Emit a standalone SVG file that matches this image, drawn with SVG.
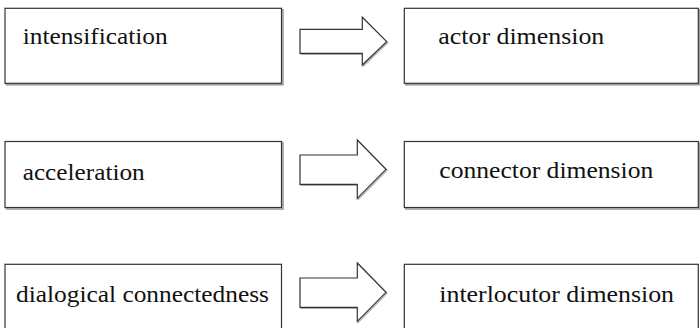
<svg xmlns="http://www.w3.org/2000/svg" width="700" height="328" viewBox="0 0 700 328">
<style>
.box{fill:#fff;stroke:#333;stroke-width:1.2}
.sh{fill:none;stroke:#999;stroke-width:1.5}
.arr{fill:#fff;stroke:#333;stroke-width:1.2;stroke-linejoin:miter}
.ash{fill:none;stroke:#aaa;stroke-width:1.2}
text{font-family:'Liberation Serif','Times New Roman',serif;font-size:24px;fill:#111}
</style>
<rect width="700" height="328" fill="#fff"/>
<g id="intensification">
<rect class="sh" x="6.5" y="9.8" width="276.5" height="75"/>
<rect class="box" x="5" y="8.3" width="276.5" height="75"/>
<text x="22.7" y="44.3" textLength="145" lengthAdjust="spacingAndGlyphs">intensification</text>
</g>
<g id="actor">
<rect class="sh" x="405.8" y="9.8" width="294" height="75"/>
<rect class="box" x="404.3" y="8.3" width="294" height="75"/>
<text x="438.3" y="44" textLength="166" lengthAdjust="spacingAndGlyphs">actor dimension</text>
</g>
<g id="acceleration">
<rect class="sh" x="6.5" y="143" width="276.5" height="66"/>
<rect class="box" x="5" y="141.5" width="276.5" height="66"/>
<text x="22.7" y="180" textLength="122" lengthAdjust="spacingAndGlyphs">acceleration</text>
</g>
<g id="connector">
<rect class="sh" x="405.8" y="143" width="294" height="66"/>
<rect class="box" x="404.3" y="141.5" width="294" height="66"/>
<text x="439.3" y="178.3" textLength="214" lengthAdjust="spacingAndGlyphs">connector dimension</text>
</g>
<g id="dialogical">
<rect class="box" x="5" y="264.3" width="276.5" height="70"/>
<text x="16" y="301.7" textLength="253" lengthAdjust="spacingAndGlyphs">dialogical connectedness</text>
</g>
<g id="interlocutor">
<rect class="box" x="404.3" y="264.3" width="294" height="70"/>
<text x="439.3" y="301.7" textLength="234.7" lengthAdjust="spacingAndGlyphs">interlocutor dimension</text>
</g>
<g id="connectors">
<polygon class="ash" points="301,30.3 363.3,30.3 363.3,18.3 387.7,42.7 363.3,66 363.3,54.3 301,54.3"/>
<polygon class="arr" points="300,29.3 362.3,29.3 362.3,17.3 386.7,41.7 362.3,65 362.3,53.3 300,53.3"/>
<polygon class="ash" points="301,156 358.3,156 358.3,141 387,170.3 358.3,199.3 358.3,185.3 301,185.3"/>
<polygon class="arr" points="300,155 357.3,155 357.3,140 386,169.3 357.3,198.3 357.3,184.3 300,184.3"/>
<polygon class="ash" points="301,279 358.3,279 358.3,264 387,293.3 358.3,322.3 358.3,308.3 301,308.3"/>
<polygon class="arr" points="300,278 357.3,278 357.3,263 386,292.3 357.3,321.3 357.3,307.3 300,307.3"/>
</g>
</svg>
